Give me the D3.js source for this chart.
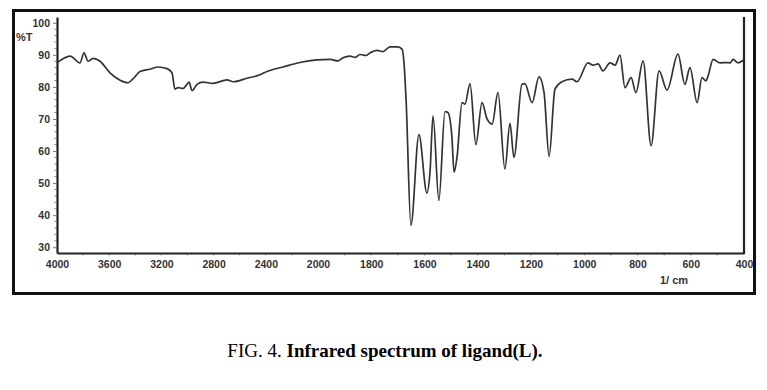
<!DOCTYPE html>
<html><head><meta charset="utf-8">
<script src="https://cdn.jsdelivr.net/npm/d3@7"></script>
<style>
body{margin:0;background:#fff;}
svg{display:block;}
</style></head>
<body>
<script>
// Wavenumbers (cm^-1) and transmittance (%T)
const wavenumber = [4000,3900,3824,3793,3762,3724,3670,3594,3517,3456,3418,3364,3287,3226,3157,3119,3096,3073,3034,3004,2988,2965,2927,2881,2805,2697,2651,2544,2444,2391,2268,2138,2008,1955,1925,1906,1880,1860,1842,1820,1805,1778,1756,1730,1700,1684,1677,1669,1651,1621,1591,1579,1568,1546,1523,1512,1497,1489,1478,1459,1448,1429,1407,1384,1365,1346,1324,1298,1279,1264,1234,1223,1196,1170,1151,1132,1110,1084,1046,1027,986,967,948,930,903,884,866,847,824,806,779,749,719,689,648,622,603,576,558,543,535,516,490,464,452,441,422,403];
const transmittance = [87.5,89.6,87.5,90.6,88.0,88.9,88.0,84.4,82.1,81.3,82.5,84.8,85.5,86.2,85.7,84.4,79.3,79.8,79.5,80.8,81.5,78.8,80.8,81.5,81.1,82.2,81.6,82.7,83.8,84.8,86.2,87.6,88.4,88.6,88.1,89.1,89.6,89.2,90.1,89.8,90.6,91.4,91.0,92.5,92.5,91.7,87.5,75.6,36.8,65.1,46.9,53.9,71.0,44.6,72.3,72.0,64.3,53.4,58.0,75.1,74.6,81.0,62.0,75.1,70.0,68.4,78.2,54.4,68.6,58.0,80.8,81.0,75.1,83.1,78.2,58.3,79.3,81.6,82.4,81.6,87.5,86.8,87.2,85.0,87.5,86.8,89.9,79.8,82.9,78.2,88.1,61.7,85.0,79.0,90.2,80.8,86.0,75.1,82.9,81.9,83.4,88.6,87.5,87.6,87.5,88.6,87.5,88.3];
const xTickValues = [4000,3600,3200,2800,2400,2000,1800,1600,1400,1200,1000,800,600,400];
const yTickValues = [30,40,50,60,70,80,90,100];
const yLabel = "%T";
const xLabel = "1/ cm";
const captionPlain = "FIG. 4. ";
const captionBold = "Infrared spectrum of ligand(L).";

const W = 767, H = 390;
const svg = d3.select("body").append("svg").attr("width", W).attr("height", H);

// outer frame
svg.append("rect").attr("x", 13.5).attr("y", 10.5).attr("width", 741).attr("height", 283)
  .attr("fill", "none").attr("stroke", "#111").attr("stroke-width", 3);

const x = d3.scaleLinear().domain([4000, 2000, 400]).range([57, 318, 744]);
const y = d3.scaleLinear().domain([28.2, 101.8]).range([253, 17]);

// y minor ticks
const yMinor = d3.range(30, 101, 2).filter(v => v % 10 !== 0);
svg.append("g").selectAll("line").data(yMinor).join("line")
  .attr("x1", 54).attr("x2", 57).attr("y1", d => y(d)).attr("y2", d => y(d))
  .attr("stroke", "#999").attr("stroke-width", 1);

// y axis
const yAxis = d3.axisLeft(y).tickValues(yTickValues).tickFormat(d3.format("d")).tickSize(4).tickPadding(3).tickSizeOuter(0);
const gy = svg.append("g").attr("transform", "translate(57,0)").call(yAxis);
gy.select(".domain").attr("stroke", "#222").attr("stroke-width", 2.2);
gy.selectAll(".tick line").attr("stroke", "#777");
gy.selectAll(".tick text").attr("font-family", "Liberation Sans, Arial, sans-serif")
  .attr("font-size", 10.5).attr("font-weight", "bold").attr("fill", "#333");

// x minor ticks
const xMinor = d3.range(3800, 2000, -200).concat(d3.range(1900, 400, -100));
svg.append("g").selectAll("line").data(xMinor).join("line")
  .attr("x1", d => x(d)).attr("x2", d => x(d)).attr("y1", 253).attr("y2", 256)
  .attr("stroke", "#bbb").attr("stroke-width", 1);

// x axis
const xAxis = d3.axisBottom(x).tickValues(xTickValues).tickFormat(d3.format("d")).tickSize(0).tickPadding(8).tickSizeOuter(0);
const gx = svg.append("g").attr("transform", "translate(0,253)").call(xAxis);
gx.select(".domain").attr("stroke", "#222").attr("stroke-width", 2.2);
gx.selectAll(".tick text").attr("font-family", "Liberation Sans, Arial, sans-serif")
  .attr("font-size", 10.5).attr("font-weight", "bold").attr("fill", "#333");

// right border line of plot
svg.append("line").attr("x1", x(400)).attr("x2", x(400)).attr("y1", 17).attr("y2", 254)
  .attr("stroke", "#222").attr("stroke-width", 2.2);

// axis labels
svg.append("text").attr("x", 16).attr("y", 41).text(yLabel)
  .attr("font-family", "Liberation Sans, Arial, sans-serif").attr("font-size", 11)
  .attr("font-weight", "bold").attr("fill", "#333");
svg.append("text").attr("x", 674).attr("y", 284).attr("text-anchor", "middle").text(xLabel)
  .attr("font-family", "Liberation Sans, Arial, sans-serif").attr("font-size", 11)
  .attr("font-weight", "bold").attr("fill", "#333");

// spectrum line
const data = wavenumber.map((w, i) => ({w, t: transmittance[i]}));
const line = d3.line().x(d => x(d.w)).y(d => y(d.t)).curve(d3.curveMonotoneX);
svg.append("path").datum(data).attr("d", line)
  .attr("fill", "none").attr("stroke", "#333").attr("stroke-width", 1.7)
  .attr("stroke-linejoin", "round");

// caption
const cap = svg.append("text").attr("x", 385).attr("y", 357).attr("text-anchor", "middle")
  .attr("font-family", "Liberation Serif, Times New Roman, serif").attr("font-size", 19).attr("fill", "#000");
cap.append("tspan").text(captionPlain);
cap.append("tspan").attr("font-weight", "bold").text(captionBold);
</script>
</body></html>
